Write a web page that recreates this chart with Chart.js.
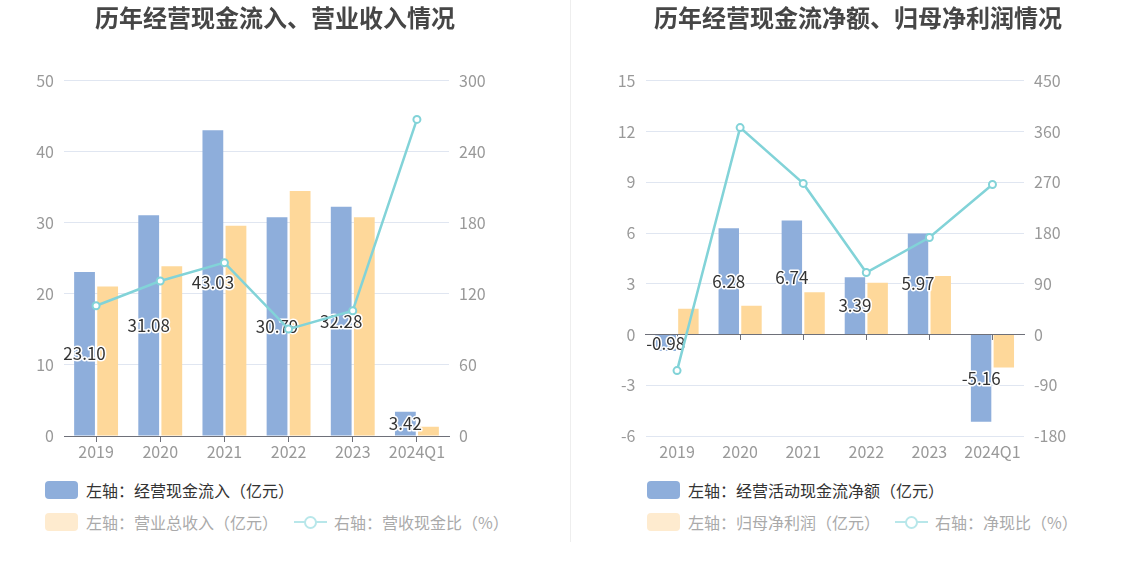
<!DOCTYPE html>
<html lang="zh">
<head>
    <meta charset="UTF-8">
    <title>历年经营现金流情况</title>
    <script src="https://cdn.jsdelivr.net/npm/chart.js"></script>
    <style>
        body {
            margin: 0;
            background: #fff;
            font-family: "Noto Sans CJK SC", sans-serif;
        }

        .page {
            position: relative;
            width: 1134px;
            height: 582px;
        }

        .panel {
            position: absolute;
            top: 0;
            height: 470px;
        }

        .divider {
            position: absolute;
            left: 570px;
            top: 0;
            width: 1px;
            height: 542px;
            background: #eeeeee;
        }

        .legend-item {
            position: absolute;
            display: flex;
            align-items: center;
            height: 18px;
            font-size: 16px;
            white-space: nowrap;
        }

        .legend-box {
            width: 33px;
            height: 18px;
            border-radius: 4px;
            margin-right: 8px;
        }

        .legend-line {
            position: relative;
            width: 33px;
            height: 18px;
            margin-right: 7px;
        }

        .legend-line::before {
            content: "";
            position: absolute;
            left: 0;
            right: 0;
            top: 8px;
            height: 2px;
            background: #b8e7ea;
        }

        .legend-line::after {
            content: "";
            position: absolute;
            left: 10px;
            top: 3px;
            width: 9px;
            height: 9px;
            border: 2px solid #b8e7ea;
            border-radius: 50%;
            background: #fff;
        }
    </style>
</head>
<body>
    <div class="page">
        <div class="panel" style="left: 0; width: 567px;"><canvas id="inflowChart"></canvas></div>
        <div class="divider"></div>
        <div class="panel" style="left: 571px; width: 563px;"><canvas id="netChart"></canvas></div>
        <div id="legends"></div>
    </div>

    <script>
        const years = ['2019', '2020', '2021', '2022', '2023', '2024Q1'];

        // 左图
        const cashInflow = [23.10, 31.08, 43.03, 30.79, 32.28, 3.42];
        const revenue = [21.05, 23.9, 29.6, 34.5, 30.8, 1.3];
        const cashRevenueRatio = [110.0, 130.9, 146.4, 90.3, 105.8, 267.4];
        const inflowLeftTicks = [0, 10, 20, 30, 40, 50];
        const inflowRightTicks = [0, 60, 120, 180, 240, 300];

        // 右图
        const netCashFlow = [-0.98, 6.28, 6.74, 3.39, 5.97, -5.16];
        const netProfit = [1.52, 1.70, 2.50, 3.06, 3.46, -1.95];
        const netCashRatio = [-64, 367, 268, 110, 172, 266];
        const netLeftTicks = [-6, -3, 0, 3, 6, 9, 12, 15];
        const netRightTicks = [-180, -90, 0, 90, 180, 270, 360, 450];

        const BLUE = '#8eaedb';
        const YELLOW = '#fed89a';
        const TEAL = '#82d3d8';
        const GRID = '#e0e6f1';
        const AXIS = '#6e7079';
        const TICK = '#999999';
        const FONT = '"Noto Sans CJK SC", sans-serif';

        // 柱内数值标签（白色描边）
        const barLabels = {
            id: 'barLabels',
            afterDatasetDraw(chart, args) {
                if (args.index !== 0) return;
                const ctx = chart.ctx;
                ctx.save();
                ctx.font = '17px ' + FONT;
                ctx.textAlign = 'center';
                ctx.textBaseline = 'middle';
                ctx.lineWidth = 3;
                ctx.lineJoin = 'round';
                ctx.strokeStyle = '#fff';
                ctx.fillStyle = '#333';
                args.meta.data.forEach((bar, i) => {
                    const text = chart.data.datasets[0].data[i].toFixed(2);
                    const y = (bar.y + bar.base) / 2;
                    ctx.strokeText(text, bar.x, y);
                    ctx.fillText(text, bar.x, y);
                });
                ctx.restore();
            }
        };

        function axisRange(ticks) {
            return {
                min: ticks[0],
                max: ticks[ticks.length - 1],
                step: ticks[1] - ticks[0]
            };
        }

        function makeChart(id, title, barA, barB, ratio, leftTicks, rightTicks, pad, leftW, rightW) {
            const L = axisRange(leftTicks);
            const R = axisRange(rightTicks);
            return new Chart(document.getElementById(id), {
                type: 'bar',
                data: {
                    labels: years,
                    datasets: [
                        {
                            type: 'bar',
                            data: barA,
                            backgroundColor: BLUE,
                            order: 1,
                            yAxisID: 'y',
                            categoryPercentage: 0.72,
                            barPercentage: 0.9
                        },
                        {
                            type: 'bar',
                            data: barB,
                            backgroundColor: YELLOW,
                            order: 2,
                            yAxisID: 'y',
                            categoryPercentage: 0.72,
                            barPercentage: 0.9
                        },
                        {
                            type: 'line',
                            data: ratio,
                            borderColor: TEAL,
                            borderWidth: 2.5,
                            tension: 0,
                            pointRadius: 3.5,
                            pointBorderWidth: 2,
                            pointBackgroundColor: '#fff',
                            pointBorderColor: TEAL,
                            order: 0,
                            yAxisID: 'y1'
                        }
                    ]
                },
                options: {
                    responsive: true,
                    maintainAspectRatio: false,
                    animation: false,
                    layout: {
                        padding: { left: pad[0], right: pad[1], top: 0, bottom: 0 }
                    },
                    plugins: {
                        legend: { display: false },
                        tooltip: { enabled: false },
                        title: {
                            display: true,
                            text: title,
                            color: '#464646',
                            font: { family: FONT, size: 24, weight: 'bold' },
                            padding: { top: 3, bottom: 49 }
                        }
                    },
                    scales: {
                        // 零轴线与刻度
                        x: {
                            position: { y: 0 },
                            offset: true,
                            grid: {
                                display: true,
                                drawOnChartArea: false,
                                drawTicks: true,
                                tickLength: 5,
                                offset: false,
                                color: AXIS
                            },
                            border: { display: true, color: AXIS },
                            ticks: { display: false }
                        },
                        // 底部类目标签
                        x2: {
                            type: 'category',
                            axis: 'x',
                            position: 'bottom',
                            offset: true,
                            grid: { display: false, drawTicks: false },
                            border: { display: false },
                            ticks: {
                                color: TICK,
                                padding: 6,
                                font: { family: FONT, size: 16 }
                            },
                            afterFit: s => { s.height = 34; }
                        },
                        y: {
                            position: 'left',
                            min: L.min,
                            max: L.max,
                            grid: { color: GRID, drawTicks: false },
                            border: { display: false },
                            ticks: {
                                stepSize: L.step,
                                color: TICK,
                                padding: 10,
                                font: { family: FONT, size: 16 }
                            },
                            afterFit: s => { s.width = leftW; }
                        },
                        y1: {
                            position: 'right',
                            min: R.min,
                            max: R.max,
                            grid: { display: false, drawTicks: false },
                            border: { display: false },
                            ticks: {
                                stepSize: R.step,
                                color: TICK,
                                padding: 10,
                                font: { family: FONT, size: 16 }
                            },
                            afterFit: s => { s.width = rightW; }
                        }
                    }
                },
                plugins: [barLabels]
            });
        }

        makeChart('inflowChart', '历年经营现金流入、营业收入情况',
            cashInflow, revenue, cashRevenueRatio,
            inflowLeftTicks, inflowRightTicks, [0, 17], 64, 101);

        makeChart('netChart', '历年经营现金流净额、归母净利润情况',
            netCashFlow, netProfit, netCashRatio,
            netLeftTicks, netRightTicks, [11, 0], 63.5, 110);

        // 图例
        const legends = [
            { x: 45, names: ['左轴：经营现金流入（亿元）', '左轴：营业总收入（亿元）', '右轴：营收现金比（%）'], x3: 294 },
            { x: 647, names: ['左轴：经营活动现金流净额（亿元）', '左轴：归母净利润（亿元）', '右轴：净现比（%）'], x3: 895 }
        ];
        const holder = document.getElementById('legends');
        legends.forEach(lg => {
            const rows = [
                { left: lg.x, top: 481, icon: '<div class="legend-box" style="background:' + BLUE + '"></div>', color: '#333', text: lg.names[0] },
                { left: lg.x, top: 513, icon: '<div class="legend-box" style="background:#feebcf"></div>', color: '#aaa', text: lg.names[1] },
                { left: lg.x3, top: 513, icon: '<div class="legend-line"></div>', color: '#aaa', text: lg.names[2] }
            ];
            rows.forEach(r => {
                const el = document.createElement('div');
                el.className = 'legend-item';
                el.style.left = r.left + 'px';
                el.style.top = r.top + 'px';
                el.style.color = r.color;
                el.innerHTML = r.icon + '<span>' + r.text + '</span>';
                holder.appendChild(el);
            });
        });
    </script>
</body>
</html>
